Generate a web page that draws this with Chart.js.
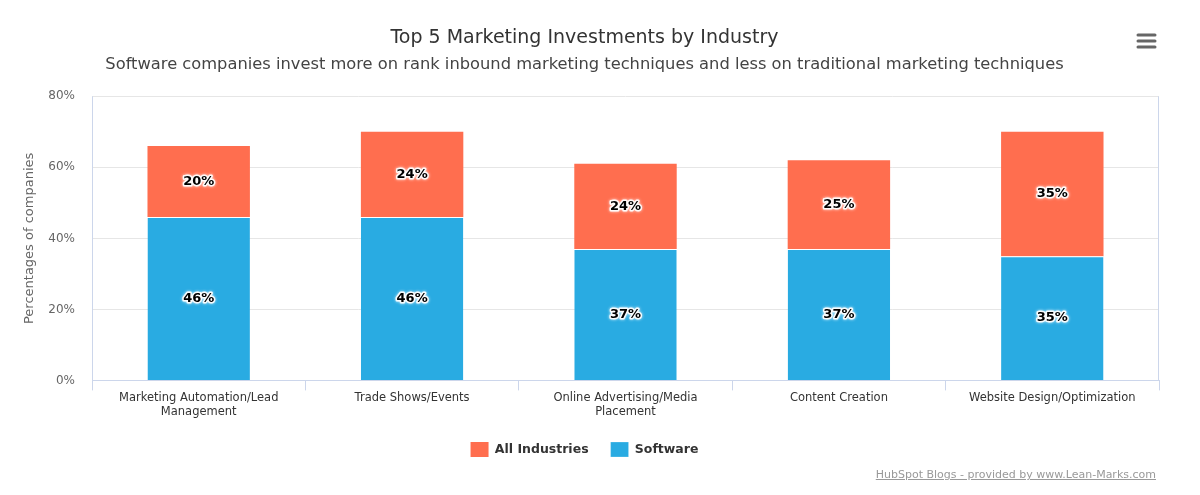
<!DOCTYPE html>
<html>
<head>
<meta charset="utf-8">
<script src="https://cdn.jsdelivr.net/npm/chart.js@4"></script>
<style>
  body { margin: 0; background: #fff; }
  #wrap { position: relative; width: 1200px; height: 495px; }
  #credits {
    position: absolute; right: 44px; top: 468px;
    font: 11px "DejaVu Sans", sans-serif; color: #999; text-decoration: underline;
  }
</style>
</head>
<body>
<div id="wrap">
  <canvas id="investChart"></canvas>
  <div id="credits">HubSpot Blogs - provided by www.Lean-Marks.com</div>
</div>
<script>
const categories = [
    ["Marketing Automation/Lead", "Management"],
    "Trade Shows/Events",
    ["Online Advertising/Media", "Placement"],
    "Content Creation",
    "Website Design/Optimization"
];
const softwareValues = [46, 46, 37, 37, 35];
const allIndustriesValues = [20, 24, 24, 25, 35];
const yTicks = [0, 20, 40, 60, 80];

const FONT = "'DejaVu Sans', Verdana, sans-serif";

// labels in the middle of each bar segment, black with a white outline
const segmentLabels = {
    id: "segmentLabels",
    afterDatasetsDraw(chart) {
        const ctx = chart.ctx;
        ctx.save();
        ctx.font = "bold 13px " + FONT;
        ctx.textAlign = "center";
        ctx.textBaseline = "middle";
        chart.data.datasets.forEach((ds, i) => {
            chart.getDatasetMeta(i).data.forEach((bar, j) => {
                const p = bar.getProps(["x", "y", "base"], true);
                const y = (p.y + p.base) / 2;
                const txt = ds.data[j] + "%";
                ctx.lineJoin = "round";
                ctx.strokeStyle = "rgba(255,255,255,0.9)";
                ctx.lineWidth = 3;
                ctx.shadowColor = "#fff";
                ctx.shadowBlur = 3;
                ctx.strokeText(txt, p.x, y);
                ctx.shadowBlur = 0;
                ctx.fillStyle = "#000";
                ctx.fillText(txt, p.x, y);
            });
        });
        ctx.restore();
    }
};

// plot border lines and the export menu icon
const frame = {
    id: "frame",
    beforeDatasetsDraw(chart) {
        const { ctx, chartArea: a } = chart;
        ctx.save();
        ctx.strokeStyle = "#ccd6eb";
        ctx.lineWidth = 1;
        ctx.beginPath();
        ctx.moveTo(Math.round(a.left) + 0.5, a.top);
        ctx.lineTo(Math.round(a.left) + 0.5, a.bottom);
        ctx.moveTo(Math.round(a.right) - 0.5, a.top);
        ctx.lineTo(Math.round(a.right) - 0.5, a.bottom);
        ctx.stroke();
        ctx.restore();
    },
    afterDraw(chart) {
        const ctx = chart.ctx;
        ctx.save();
        ctx.strokeStyle = "#666";
        ctx.lineWidth = 3;
        ctx.lineCap = "round";
        ctx.beginPath();
        [35, 41, 47].forEach(y => { ctx.moveTo(1138, y); ctx.lineTo(1155, y); });
        ctx.stroke();
        ctx.restore();
    }
};

new Chart(document.getElementById("investChart"), {
    type: "bar",
    data: {
        labels: categories,
        datasets: [
            { label: "Software", data: softwareValues, backgroundColor: "#29abe2", borderColor: "#fff", borderWidth: { top: 1 }, borderSkipped: "bottom" },
            { label: "All Industries", data: allIndustriesValues, backgroundColor: "#ff6e4f", borderWidth: 0 }
        ]
    },
    options: {
        responsive: true,
        maintainAspectRatio: false,
        animation: false,
        categoryPercentage: 0.48,
        barPercentage: 1,
        layout: { padding: { left: 10, right: 41, top: 0, bottom: 28 } },
        plugins: {
            title: {
                display: true,
                text: "Top 5 Marketing Investments by Industry",
                color: "#333",
                font: { family: FONT, size: 19, weight: "normal" },
                padding: { top: 27, bottom: 3 }
            },
            subtitle: {
                display: true,
                text: "Software companies invest more on rank inbound marketing techniques and less on traditional marketing techniques",
                color: "#444",
                font: { family: FONT, size: 16.3 },
                padding: { top: 2, bottom: 22 }
            },
            legend: {
                position: "bottom",
                reverse: true,
                labels: {
                    color: "#333",
                    font: { family: FONT, size: 12.5, weight: "bold" },
                    boxWidth: 18,
                    boxHeight: 15,
                    padding: 22
                }
            },
            tooltip: { enabled: false }
        },
        scales: {
            x: {
                stacked: true,
                grid: { drawOnChartArea: false, drawTicks: true, tickLength: 10, color: "#ccd6eb", offset: true },
                border: { color: "#ccd6eb" },
                ticks: { color: "#333", font: { family: FONT, size: 11.5 }, padding: 1, maxRotation: 0 }
            },
            y: {
                stacked: true,
                min: 0,
                max: 80,
                afterBuildTicks: scale => { scale.ticks = yTicks.map(v => ({ value: v })); },
                afterFit: scale => { scale.width = 82; },
                grid: { color: "#e6e6e6", drawTicks: false },
                border: { display: false },
                ticks: { color: "#666", font: { family: FONT, size: 12 }, padding: 17, callback: v => v + "%" },
                title: {
                    display: true,
                    text: "Percentages of companies",
                    color: "#666",
                    font: { family: FONT, size: 13 },
                    padding: { top: 12, bottom: 0 }
                }
            }
        }
    },
    plugins: [segmentLabels, frame]
});
</script>
</body>
</html>
